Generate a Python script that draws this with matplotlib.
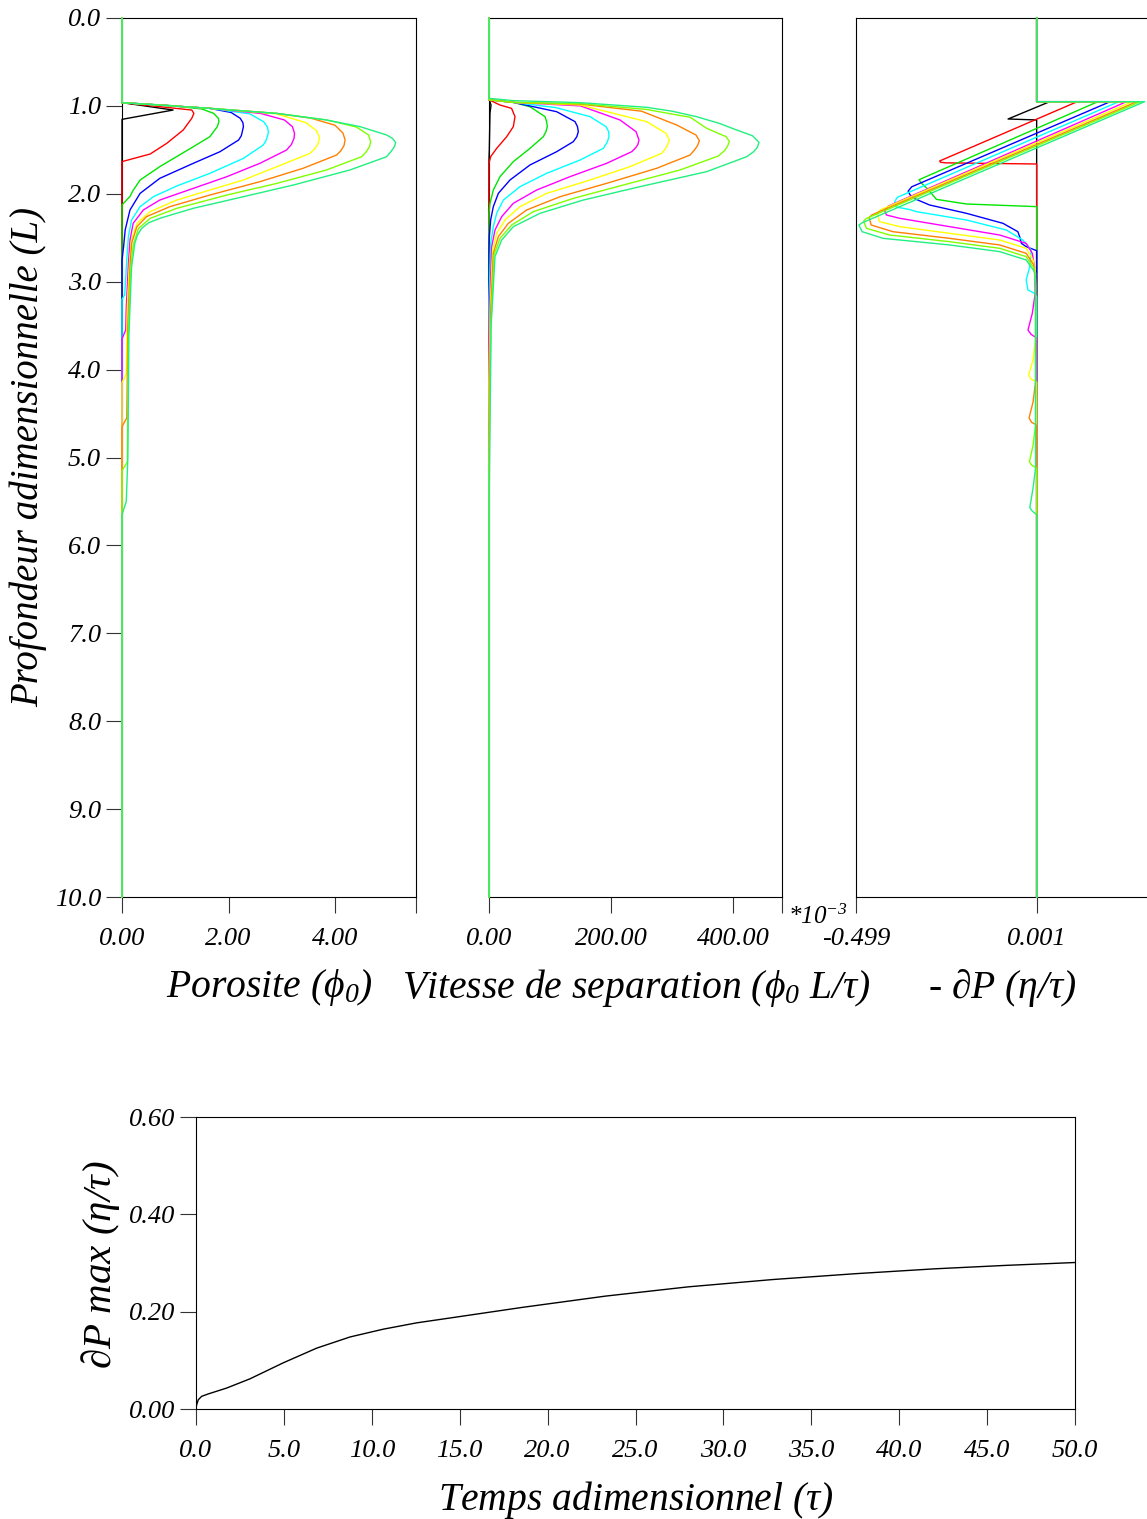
import matplotlib
matplotlib.use('Agg')
import matplotlib.pyplot as plt

plt.rcParams['font.family'] = ['Liberation Serif', 'DejaVu Serif']
plt.rcParams['font.style'] = 'italic'
plt.rcParams['mathtext.fontset'] = 'custom'
plt.rcParams['mathtext.rm'] = 'Liberation Serif:italic'
plt.rcParams['mathtext.it'] = 'Liberation Serif:italic'
plt.rcParams['mathtext.bf'] = 'Liberation Serif:bold'

# ---------------- data ----------------
curve_colors = ['#000000', '#ff0000', '#00e600', '#0000ff', '#00ffff',
                '#ff00ff', '#ffff00', '#ff8000', '#80ff00', '#20f080']

# Porosity profiles (value, depth)
por_black = [(0,0),(0,0.963),(0.96,1.047),(0,1.153),(0,10)]
por_red = [(0,0),(0,0.963),(0.71,1.009),(1.31,1.047),(1.35,1.085),(1.31,1.141),(1.15,1.274),(0.84,1.426),(0.53,1.547),(0,1.634),(0,10)]
por_green = [(0,0),(0,0.963),(0.90,0.995),(1.50,1.035),(1.72,1.085),(1.81,1.141),(1.82,1.18),(1.79,1.236),(1.65,1.35),(1.34,1.464),(0.71,1.691),(0.34,1.843),(0.20,1.97),(0.15,2.03),(0,2.127),(0,10)]
por_blue = [(0,0),(0,0.963),(1.65,1.028),(2.05,1.075),(2.22,1.141),(2.27,1.19),(2.28,1.236),(2.26,1.29),(2.24,1.34),(2.19,1.388),(1.84,1.521),(1.34,1.653),(0.71,1.824),(0.34,1.995),(0.15,2.184),(0.06,2.41),(0.03,2.6),(0,2.75),(0,10)]
por_cyan = [(0,0),(0,0.963),(1.65,1.028),(2.40,1.09),(2.66,1.18),(2.73,1.24),(2.75,1.293),(2.73,1.35),(2.70,1.40),(2.65,1.446),(2.28,1.597),(1.65,1.767),(1.03,1.911),(0.59,2.033),(0.34,2.146),(0.18,2.298),(0.12,2.488),(0.09,2.75),(0.06,3.05),(0.05,3.15),(0,3.2),(0,10)]
por_magenta = [(0,0),(0,0.963),(1.65,1.028),(2.60,1.085),(3.05,1.16),(3.20,1.236),(3.24,1.312),(3.23,1.37),(3.18,1.44),(3.09,1.502),(2.59,1.653),(1.97,1.805),(1.34,1.938),(0.71,2.071),(0.40,2.184),(0.21,2.336),(0.15,2.526),(0.12,2.8),(0.08,3.3),(0.07,3.55),(0,3.65),(0,10)]
por_yellow = [(0,0),(0,0.963),(1.65,1.028),(2.90,1.09),(3.45,1.19),(3.65,1.28),(3.71,1.358),(3.69,1.42),(3.63,1.48),(3.53,1.54),(2.91,1.691),(2.28,1.843),(1.65,1.957),(1.03,2.071),(0.53,2.203),(0.28,2.336),(0.18,2.526),(0.14,2.79),(0.10,3.3),(0.08,4.05),(0,4.15),(0,10)]
por_orange = [(0,0),(0,0.963),(1.65,1.028),(2.90,1.085),(3.55,1.14),(4.00,1.22),(4.15,1.31),(4.19,1.388),(4.17,1.45),(4.11,1.51),(4.03,1.559),(3.40,1.71),(2.59,1.862),(1.65,2.014),(0.90,2.146),(0.46,2.26),(0.28,2.374),(0.18,2.564),(0.15,2.83),(0.11,3.5),(0.09,4.55),(0,4.65),(0,10)]
por_chartreuse = [(0,0),(0,0.963),(1.65,1.028),(2.90,1.085),(3.84,1.16),(4.40,1.24),(4.63,1.33),(4.67,1.407),(4.65,1.46),(4.59,1.52),(4.50,1.578),(3.84,1.729),(2.91,1.881),(1.97,2.014),(1.03,2.165),(0.53,2.279),(0.31,2.393),(0.21,2.582),(0.16,2.867),(0.12,3.6),(0.10,5.05),(0,5.15),(0,10)]
por_spring = [(0,0),(0,0.963),(1.65,1.028),(2.90,1.085),(3.84,1.16),(4.47,1.236),(4.97,1.331),(5.08,1.37),(5.14,1.418),(5.11,1.47),(5.05,1.52),(4.97,1.578),(4.28,1.729),(3.22,1.900),(2.28,2.033),(1.34,2.165),(0.71,2.279),(0.50,2.33),(0.37,2.393),(0.29,2.47),(0.24,2.564),(0.18,2.83),(0.13,3.6),(0.11,5.0),(0.08,5.5),(0,5.65),(0,10)]

# Separation velocity profiles (value, depth)
vel_black = [(0,0),(0,0.92),(3.3,0.99),(1.6,1.085),(0.5,1.5),(0,1.6),(0,10)]
vel_red = [(0,0),(0,0.93),(18,0.99),(37,1.028),(42.6,1.122),(39.9,1.236),(29,1.35),(12.6,1.483),(2.7,1.578),(0,1.653),(0,10)]
vel_green = [(0,0),(0,0.93),(40,0.96),(67,1.009),(91.8,1.122),(94.5,1.18),(95.6,1.236),(93.5,1.29),(89.1,1.35),(67.2,1.483),(39.9,1.634),(18,1.805),(7.1,1.957),(1.6,2.108),(0,2.222),(0,10)]
vel_blue = [(0,0),(0,0.93),(40,0.96),(110.9,1.066),(141,1.179),(145,1.235),(146.4,1.293),(144,1.35),(138.2,1.407),(110.9,1.521),(67.2,1.672),(34.4,1.843),(15.3,1.995),(7.1,2.146),(2.7,2.298),(0.5,2.488),(0,2.65),(0,10)]
vel_cyan = [(0,0),(0,0.93),(40,0.96),(110,1.02),(165.6,1.122),(191.8,1.236),(196,1.29),(196.7,1.35),(194,1.41),(187.4,1.483),(149.2,1.616),(94.5,1.767),(50.8,1.919),(23.5,2.071),(12.6,2.222),(7.1,2.374),(2.7,2.564),(1,3.0),(0,3.2),(0,10)]
vel_magenta = [(0,0),(0,0.93),(40,0.96),(150,1.0),(214.7,1.16),(241,1.293),(245.9,1.388),(244,1.44),(240,1.48),(233.9,1.521),(192.9,1.653),(132.8,1.805),(78.1,1.957),(39.9,2.108),(20.8,2.26),(9.8,2.412),(4.4,2.601),(1.5,3.2),(0,3.65),(0,10)]
vel_yellow = [(0,0),(0,0.93),(40,0.96),(150,0.99),(258.4,1.179),(290.1,1.312),(295.6,1.388),(293,1.44),(289,1.49),(283,1.54),(231.1,1.691),(165.6,1.843),(94.5,1.995),(50.8,2.146),(26.2,2.298),(12.6,2.45),(6,2.639),(2,3.3),(0,4.15),(0,10)]
vel_orange = [(0,0),(0,0.93),(40,0.96),(150,0.98),(250,1.06),(307.6,1.217),(339.3,1.331),(344.8,1.396),(342,1.45),(337,1.50),(329.5,1.559),(274.8,1.71),(192.9,1.881),(116.4,2.033),(61.7,2.184),(31.7,2.336),(15.3,2.488),(7.1,2.677),(2.5,3.4),(0,4.65),(0,10)]
vel_chartreuse = [(0,0),(0,0.93),(40,0.96),(150,0.975),(258,1.04),(330,1.13),(356.8,1.255),(388.5,1.35),(394,1.403),(391,1.46),(386,1.51),(375.9,1.57),(313.1,1.729),(220.2,1.9),(138.2,2.052),(72.7,2.203),(37.2,2.355),(18,2.507),(8.2,2.696),(3,3.5),(0,5.15),(0,10)]
vel_spring = [(0,0),(0,0.914),(39.9,0.94),(149.2,0.963),(258.4,1.016),(300,1.06),(340.4,1.123),(378,1.2),(406,1.274),(432,1.34),(442.6,1.414),(440,1.47),(434,1.52),(422.4,1.578),(356.8,1.748),(247.5,1.919),(154.6,2.071),(83.6,2.222),(39.9,2.374),(20.8,2.526),(9.8,2.715),(3.5,3.5),(1,5.0),(0,5.65),(0,10)]

# Pressure-gradient profiles (value, depth)
dp_black = [(0,0),(0,0.952),(0.036,0.952),(-0.079,1.149),(0,1.16),(0,10)]
dp_red = [(0,0),(0,0.952),(0.112,0.952),(-0.268,1.627),(-0.265,1.642),(-0.25,1.648),(0,1.661),(0,10)]
dp_green = [(0,0),(0,0.952),(0.169,0.952),(-0.325,1.84),(-0.318,1.88),(-0.30,1.95),(-0.277,2.063),(-0.194,2.116),(0,2.146),(0,10)]
dp_blue = [(0,0),(0,0.952),(0.203,0.952),(-0.345,1.92),(-0.355,1.97),(-0.35,2.01),(-0.34,2.05),(-0.296,2.127),(-0.194,2.222),(-0.093,2.336),(-0.052,2.431),(-0.047,2.488),(-0.042,2.564),(-0.029,2.601),(0,2.647),(0,10)]
dp_cyan = [(0,0),(0,0.952),(0.227,0.952),(-0.385,2.04),(-0.392,2.09),(-0.388,2.15),(-0.35,2.18),(-0.332,2.203),(-0.194,2.298),(-0.084,2.412),(-0.038,2.526),(-0.015,2.639),(-0.019,2.829),(-0.029,2.98),(-0.024,3.094),(-0.006,3.132),(0,3.17),(0,10)]
dp_magenta = [(0,0),(0,0.952),(0.248,0.952),(-0.41,2.14),(-0.42,2.19),(-0.415,2.241),(-0.378,2.279),(-0.24,2.374),(-0.102,2.469),(-0.029,2.564),(-0.012,2.677),(-0.006,2.829),(-0.004,3.13),(-0.012,3.36),(-0.024,3.55),(-0.015,3.6),(0,3.64),(0,10)]
dp_yellow = [(0,0),(0,0.952),(0.264,0.952),(-0.43,2.18),(-0.441,2.22),(-0.434,2.317),(-0.378,2.374),(-0.24,2.45),(-0.102,2.526),(-0.029,2.62),(-0.01,2.753),(-0.003,2.905),(-0.003,3.66),(-0.01,3.89),(-0.022,4.06),(-0.015,4.11),(0,4.14),(0,10)]
dp_orange = [(0,0),(0,0.952),(0.277,0.952),(-0.455,2.24),(-0.463,2.27),(-0.457,2.355),(-0.397,2.431),(-0.24,2.507),(-0.102,2.582),(-0.029,2.677),(-0.008,2.81),(-0.003,2.98),(-0.003,4.14),(-0.01,4.37),(-0.021,4.55),(-0.014,4.6),(0,4.63),(0,10)]
dp_chartreuse = [(0,0),(0,0.952),(0.286,0.952),(-0.47,2.28),(-0.478,2.31),(-0.47,2.393),(-0.406,2.469),(-0.24,2.545),(-0.102,2.62),(-0.029,2.715),(-0.007,2.848),(-0.003,3.02),(-0.003,4.63),(-0.01,4.86),(-0.02,5.05),(-0.013,5.09),(0,5.12),(0,10)]
dp_spring = [(0,0),(0,0.952),(0.298,0.952),(-0.482,2.33),(-0.491,2.355),(-0.482,2.431),(-0.424,2.507),(-0.24,2.582),(-0.102,2.658),(-0.029,2.753),(-0.006,2.886),(-0.003,3.056),(-0.003,5.12),(-0.01,5.35),(-0.019,5.57),(-0.012,5.61),(0,5.65),(0,10)]

# Time series of max pressure gradient
time_vals = [0, 0.04, 0.13, 0.32, 0.70, 1.74, 3.07, 4.97, 6.86, 8.76, 10.65, 12.55,
             14.45, 18.6, 23.3, 28.0, 32.8, 37.5, 42.0, 46.0, 50.0]
dpmax_vals = [0.003, 0.009, 0.019, 0.026, 0.031, 0.043, 0.062, 0.095, 0.125, 0.148,
              0.164, 0.177, 0.187, 0.209, 0.232, 0.251, 0.266, 0.278, 0.288, 0.295, 0.301]

depth_ticks = [0, 1, 2, 3, 4, 5, 6, 7, 8, 9, 10]
por_ticks = [0, 2, 4]
vel_ticks = [0, 200, 400]
dp_ticks = [-0.499, 0.001]
time_ticks = [0, 5, 10, 15, 20, 25, 30, 35, 40, 45, 50]
dpmax_ticks = [0, 0.2, 0.4, 0.6]

# ---------------- figure ----------------
W, H = 1147, 1519
fig = plt.figure(figsize=(W / 100, H / 100), dpi=100)


def ax_px(l, t, r, b):
    return fig.add_axes([l / W, 1 - b / H, (r - l) / W, (b - t) / H])


TICKLEN = 11.5
FS_TICK = 19
FS_LAB = 28.5


def style(ax):
    for s in ax.spines.values():
        s.set_linewidth(0.8)
        s.set_color('black')
    ax.tick_params(direction='out', length=TICKLEN, width=0.8, color='#333333',
                   labelsize=FS_TICK)
    ax.tick_params(axis='x', pad=10.5)
    ax.tick_params(axis='y', pad=3.5)


ax1 = ax_px(122, 18, 416, 897)
ax2 = ax_px(489, 18, 782, 897)
ax3 = ax_px(856, 18, 1149, 897)
ax4 = ax_px(196, 1117, 1075, 1409)

panels = [
    (ax1, [por_black, por_red, por_green, por_blue, por_cyan, por_magenta,
           por_yellow, por_orange, por_chartreuse, por_spring], (0, 5.521)),
    (ax2, [vel_black, vel_red, vel_green, vel_blue, vel_cyan, vel_magenta,
           vel_yellow, vel_orange, vel_chartreuse, vel_spring], (0, 480.3)),
    (ax3, [dp_black, dp_red, dp_green, dp_blue, dp_cyan, dp_magenta,
           dp_yellow, dp_orange, dp_chartreuse, dp_spring], (-0.499, 0.3103)),
]

for ax, curves, xl in panels:
    style(ax)
    for pts, c in zip(curves, curve_colors):
        ax.plot([p[0] for p in pts], [p[1] for p in pts], color=c, lw=1.0,
                clip_on=False, zorder=3, solid_joinstyle='round')
    ax.set_xlim(*xl)
    ax.set_ylim(10, 0)

ax1.set_yticks(depth_ticks)
ax1.set_yticklabels([f'{v:.1f}' for v in depth_ticks])
for ax in (ax2, ax3):
    ax.set_yticks([])

ax1.set_xticks(por_ticks + [5.521])
ax1.set_xticklabels([f'{v:.2f}' for v in por_ticks] + [''])
ax2.set_xticks(vel_ticks + [480.3])
ax2.set_xticklabels([f'{v:.2f}' for v in vel_ticks] + [''])
ax3.set_xticks(dp_ticks)
ax3.set_xticklabels([f'{v:.3f}' for v in dp_ticks])

style(ax4)
ax4.plot(time_vals, dpmax_vals, color='black', lw=1.0, zorder=3)
ax4.set_xlim(0, 50)
ax4.set_ylim(0, 0.6)
ax4.set_xticks(time_ticks)
ax4.set_xticklabels([f'{v:.1f}' for v in time_ticks])
ax4.set_yticks(dpmax_ticks)
ax4.set_yticklabels([f'{v:.2f}' for v in dpmax_ticks])


def ftext(x, y, s, **kw):
    fig.text(x / W, 1 - y / H, s, **kw)


ftext(269.5, 988, r"Porosite ($\phi_{0}$)", ha='center', va='center', fontsize=FS_LAB)
ftext(636, 988, r"Vitesse de separation ($\phi_{0}$ L/$\tau$)", ha='center', va='center', fontsize=FS_LAB)
ftext(1002, 988, r"- ∂P ($\eta$/$\tau$)", ha='center', va='center', fontsize=FS_LAB)
ftext(28, 457, "Profondeur adimensionnelle (L)", ha='center', va='center',
      rotation=90, fontsize=28)
ftext(100, 1265, r"∂P max ($\eta$/$\tau$)", ha='center', va='center',
      rotation=90, fontsize=29.5)
ftext(636, 1500, r"Temps adimensionnel ($\tau$)", ha='center', va='center', fontsize=FS_LAB)
ftext(788, 917, r"*10$^{-3}$", ha='left', va='center', fontsize=18)

fig.savefig('out.png', dpi=100, facecolor='white')
